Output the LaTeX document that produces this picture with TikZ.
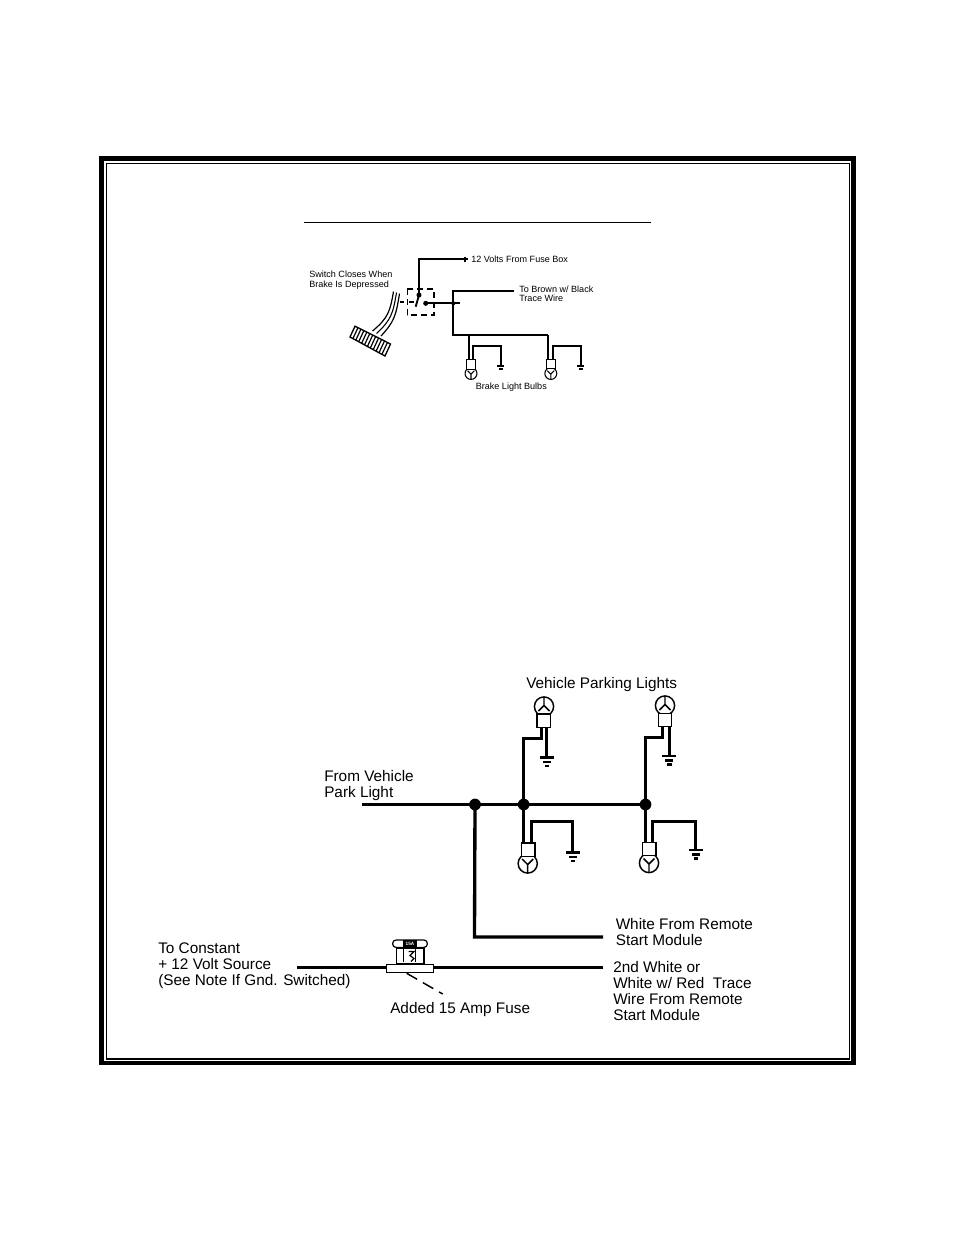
\documentclass[tikz,border=0pt]{standalone}
\usepackage{fontspec}
\setmainfont{Liberation Sans}
\tikzset{
  bigwire/.style={line width=2.5pt},
  smallwire/.style={line width=1.4pt},
  biglabel/.style={anchor=north west,align=left,inner sep=0pt,
    font=\fontsize{11.5pt}{11.85pt}\selectfont},
  smalllabel/.style={anchor=north west,align=left,inner sep=0pt,
    font=\fontsize{6.8pt}{7.2pt}\selectfont},
  junction/.style={circle,fill=black,inner sep=0pt,minimum size=8.8pt},
  smalldot/.style={circle,fill=black,inner sep=0pt,minimum size=3.8pt},
  bigsocket/.style={draw,fill=white,line width=1.1pt,inner sep=0pt,
    minimum width=10pt,minimum height=10pt},
  smallsocket/.style={draw,fill=white,line width=.8pt,inner sep=0pt,
    minimum width=6.6pt,minimum height=7.4pt},
  globe/.pic={
    \draw[fill=white] (0,0) circle (9.6);
    \draw (0,1) -- (-5.5,-4.5) (0,1) -- (5.5,-4.5) (0,1) -- (0,9.6);
  },
  gnd/.pic={
    \draw[line width=1.8pt] (-7,0) -- (7,0);
    \draw[line width=1.7pt] (-4,4.4) -- (4,4.4);
    \draw[line width=1.8pt] (-2.2,8.6) -- (2.2,8.6);
  },
  tinygnd/.pic={
    \draw[line width=1.5pt] (-3.7,0) -- (3.7,0);
    \draw[line width=1.6pt] (-2,3.5) -- (2,3.5);
  }
}
\begin{document}
\begin{tikzpicture}[x=.75pt,y=-.75pt]
  \useasboundingbox (0,0) rectangle (954,1235);
  % frame
  \draw[line width=3.4pt] (101.5,158.5) rectangle (853.5,1063);
  \draw[line width=.8pt] (106.3,163.5) rectangle (849.3,1059);
  \draw[line width=.75pt] (304,222) -- (651,222);

  % brake switch
  \coordinate (fusebox) at (465,259);
  \coordinate (brown) at (514,291);
  \coordinate (tee) at (453.3,291);
  \coordinate (lowtee) at (453.3,335);
  \coordinate (split) at (453.3,303.3);
  \node[smalldot] (contactA) at (419,295) {};
  \node[smalldot] (contactB) at (425.7,303.3) {};
  \node[smalldot,minimum size=3pt] (splitdot) at (split) {};
  \draw[line width=1pt,dash pattern=on 4.5pt off 3pt] (407.3,289) rectangle (434,315);
  \draw[smallwire] (contactA.center) -- (419,259) -- (fusebox);
  \draw[line width=.8pt] (462.5,259) -- (467.5,259) (465,256.5) -- (465,261.5);
  \draw[smallwire] (contactA.center) -- (415.7,306.7);
  \draw[smallwire] (400,301.7) -- (404,301.7) (409,301.7) -- (413.5,301.7);
  \draw[smallwire] (contactB.center) -- (460,303.3);
  \draw[smallwire] (brown) -- (tee) -- (lowtee) -- (548.3,335);

  % pedal
  \draw[line width=1pt,fill=white] (355,326.2) -- (390.5,344) -- (385,356) -- (350,337) -- cycle;
  \foreach \i in {1,...,11}
    \draw[line width=.9pt] ({355+2.95*\i},{326.2+1.48*\i}) -- ({350+2.9*\i},{337+1.58*\i});
  \draw[line width=.9pt] (393.5,291.5) .. controls (390,312) and (388,318) .. (372.5,331);
  \draw[line width=.8pt] (396.5,292.5) .. controls (393,314) and (391,320) .. (376.5,333.5);
  \draw[line width=.9pt] (399.5,293.5) .. controls (396,316) and (394,322) .. (381,336);

  % brake bulbs
  \pic[scale=.62,line width=.8pt] at (471,373.5) {globe};
  \pic[scale=.62,line width=.8pt] at (550.8,373.5) {globe};
  \node[smallsocket] (sockA) at (471.2,364.5) {};
  \node[smallsocket] (sockB) at (550.8,364) {};
  \coordinate (gndA) at (500.7,365.5);
  \coordinate (gndB) at (580.7,365.5);
  \draw[smallwire] (469,335) -- (469,360);
  \draw[smallwire] (548.3,335) -- (548.3,359.5);
  \draw[smallwire] (472.7,360) -- (472.7,346) -- (500.7,346) -- (gndA);
  \draw[smallwire] (552.7,359.5) -- (552.7,346) -- (580.7,346) -- (gndB);
  \pic at (gndA) {tinygnd};
  \pic at (gndB) {tinygnd};

  \node[smalllabel] (fuseboxtext) at (471,255.7) {12 Volts From Fuse Box};
  \node[smalllabel] (closestext) at (309,270.7) {Switch Closes When\\Brake Is Depressed};
  \node[smalllabel] (browntext) at (519,285.5) {To Brown w/ Black\\Trace Wire};
  \node[smalllabel] (bulbstext) at (475.5,382.7) {Brake Light Bulbs};

  % parking lights
  \coordinate (parkin) at (362,804.5);
  \coordinate (whiteend) at (603,937);
  \node[junction] (jA) at (475,804.5) {};
  \node[junction] (jB) at (523.7,804.5) {};
  \node[junction] (jC) at (645.5,804.5) {};
  \draw[bigwire] (parkin) -- (jA.center) -- (jB.center) -- (jC.center);
  \draw[bigwire] (jA.center) -- (474.5,937) -- (whiteend);

  \pic[yscale=-1,line width=1.1pt] at (544,706.5) {globe};
  \pic[yscale=-1,line width=1.1pt] at (665,705.5) {globe};
  \pic[line width=1.1pt] at (527.7,863.5) {globe};
  \pic[line width=1.1pt] at (649,863) {globe};
  \node[bigsocket] (topA) at (543.7,720.8) {};
  \node[bigsocket] (topB) at (665,720) {};
  \node[bigsocket] (lowA) at (528.3,849.6) {};
  \node[bigsocket] (lowB) at (649.2,849) {};

  \draw[bigwire] (jB.center) -- (523.7,738.3) -- (541.5,738.3) -- (541.5,727.5);
  \draw[bigwire] (jC.center) -- (645.5,737.7) -- (662.3,737.7) -- (662.3,727);
  \draw[bigwire] (jB.center) -- (523.7,843);
  \draw[bigwire] (jC.center) -- (645.5,842.5);
  \draw[bigwire] (531.7,843) -- (531.7,821.7) -- (572.7,821.7) -- (572.7,852);
  \draw[bigwire] (652.3,842.5) -- (652.3,821.7) -- (695.7,821.7) -- (695.7,850);
  \draw[bigwire] (546.7,727.5) -- (546.7,757.5);
  \draw[bigwire] (669.3,727) -- (669.3,756);
  \pic at (547,757.5) {gnd};
  \pic at (669.3,756) {gnd};
  \pic at (573,852.3) {gnd};
  \pic at (696,850) {gnd};

  % fuse
  \coordinate (constant) at (297,967.7);
  \coordinate (secondend) at (603,967.7);
  \draw[bigwire] (constant) -- (secondend);
  \node[draw,fill=white,line width=1.1pt,inner sep=0pt,minimum width=35pt,minimum height=6.2pt] (fusebase) at (410,968.5) {};
  \node[draw,line width=1.1pt,inner sep=0pt,minimum width=20.5pt,minimum height=12pt] (fusebody) at (410.3,956) {};
  \node[draw,fill=white,rounded corners=2.5pt,line width=.9pt,inner sep=0pt,minimum width=26pt,minimum height=5.5pt] (fusetop) at (410,943.7) {};
  \node[fill=black,inner sep=0pt,minimum width=11pt,minimum height=5pt,text=white,font=\fontsize{3.5pt}{4pt}\selectfont\bfseries] (fuserate) at (410,943.7) {15A};
  \draw[line width=.6pt] (403.5,949) -- (403.5,962) (415,949) -- (415,962);
  \draw[line width=.9pt] (408.5,951.5) -- (414,951.5) -- (410,955.5) -- (414,958.5) -- (411,961.5);
  \draw[line width=1.1pt,dash pattern=on 9pt off 5pt] (406.7,973.3) -- (442.7,994);

  % labels
  \node[biglabel] (parkhead) at (526,677) {Vehicle Parking Lights};
  \node[biglabel] (parktext) at (324,770) {From Vehicle\\Park Light};
  \node[biglabel] (whitetext) at (615.5,918.5) {White From Remote\\Start Module};
  \node[biglabel] (secondtext) at (613,961.5) {2nd White or\\White w/ Red~~Trace\\Wire From Remote\\Start Module};
  \node[biglabel] (constanttext) at (158,943) {To Constant\\+ 12 Volt Source\\(See Note If Gnd. Switched)};
  \node[biglabel] (fusetext) at (390,1002) {Added 15 Amp Fuse};
\end{tikzpicture}
\end{document}
